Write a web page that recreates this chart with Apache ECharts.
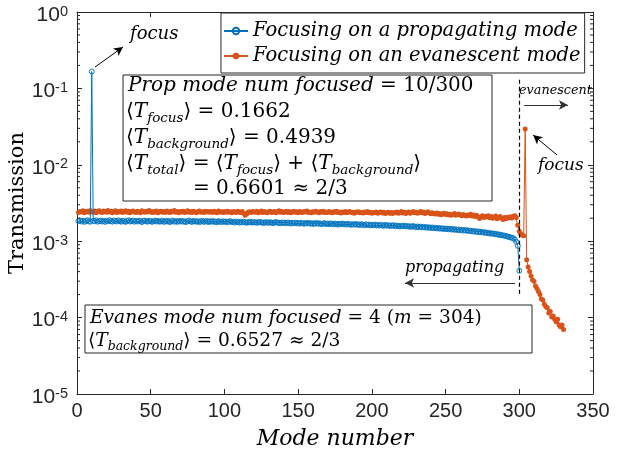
<!DOCTYPE html>
<html>
<head>
<meta charset="utf-8">
<script src="https://cdn.jsdelivr.net/npm/echarts@6/dist/echarts.min.js"></script>
<style>
  html, body { margin: 0; padding: 0; background: #fff; }
  #chart { width: 618px; height: 460px; }
</style>
</head>
<body>
<div id="chart"></div>
<script>
// Transmission into each outgoing mode when the input is shaped to focus on
// propagating mode 10 (modes 1..300 are propagating).
const propFocusTransmission = [
  1.83e-3,1.86e-3,1.81e-3,1.85e-3,1.79e-3,1.84e-3,1.88e-3,1.82e-3,1.80e-3,0.1662,
  1.85e-3,1.82e-3,1.87e-3,1.80e-3,1.83e-3,1.86e-3,1.81e-3,1.84e-3,1.79e-3,1.85e-3,
  1.82e-3,1.88e-3,1.83e-3,1.80e-3,1.86e-3,1.84e-3,1.81e-3,1.87e-3,1.83e-3,1.80e-3,
  1.85e-3,1.82e-3,1.79e-3,1.84e-3,1.87e-3,1.81e-3,1.83e-3,1.86e-3,1.80e-3,1.84e-3,
  1.81e-3,1.85e-3,1.83e-3,1.78e-3,1.84e-3,1.86e-3,1.82e-3,1.80e-3,1.85e-3,1.83e-3,
  1.79e-3,1.83e-3,1.86e-3,1.81e-3,1.84e-3,1.80e-3,1.82e-3,1.85e-3,1.79e-3,1.83e-3,
  1.81e-3,1.84e-3,1.78e-3,1.82e-3,1.86e-3,1.80e-3,1.83e-3,1.79e-3,1.84e-3,1.81e-3,
  1.85e-3,1.80e-3,1.82e-3,1.78e-3,1.83e-3,1.86e-3,1.81e-3,1.79e-3,1.84e-3,1.82e-3,
  1.80e-3,1.83e-3,1.77e-3,1.82e-3,1.85e-3,1.79e-3,1.81e-3,1.84e-3,1.78e-3,1.82e-3,
  1.80e-3,1.84e-3,1.79e-3,1.81e-3,1.77e-3,1.83e-3,1.80e-3,1.78e-3,1.82e-3,1.79e-3,
  1.81e-3,1.77e-3,1.80e-3,1.83e-3,1.78e-3,1.79e-3,1.76e-3,1.81e-3,1.78e-3,1.75e-3,
  1.79e-3,1.76e-3,1.80e-3,1.77e-3,1.74e-3,1.78e-3,1.76e-3,1.79e-3,1.75e-3,1.77e-3,
  1.78e-3,1.74e-3,1.77e-3,1.79e-3,1.75e-3,1.76e-3,1.73e-3,1.78e-3,1.76e-3,1.74e-3,
  1.77e-3,1.75e-3,1.72e-3,1.76e-3,1.78e-3,1.74e-3,1.75e-3,1.71e-3,1.76e-3,1.73e-3,
  1.75e-3,1.72e-3,1.76e-3,1.73e-3,1.70e-3,1.74e-3,1.72e-3,1.75e-3,1.71e-3,1.73e-3,
  1.70e-3,1.74e-3,1.72e-3,1.69e-3,1.73e-3,1.71e-3,1.74e-3,1.70e-3,1.72e-3,1.68e-3,
  1.72e-3,1.70e-3,1.73e-3,1.69e-3,1.71e-3,1.67e-3,1.70e-3,1.72e-3,1.68e-3,1.70e-3,
  1.67e-3,1.71e-3,1.69e-3,1.66e-3,1.70e-3,1.68e-3,1.65e-3,1.69e-3,1.67e-3,1.70e-3,
  1.66e-3,1.68e-3,1.65e-3,1.69e-3,1.66e-3,1.64e-3,1.67e-3,1.65e-3,1.68e-3,1.64e-3,
  1.66e-3,1.63e-3,1.67e-3,1.64e-3,1.62e-3,1.66e-3,1.63e-3,1.65e-3,1.61e-3,1.64e-3,
  1.62e-3,1.65e-3,1.61e-3,1.63e-3,1.60e-3,1.64e-3,1.61e-3,1.59e-3,1.63e-3,1.60e-3,
  1.62e-3,1.58e-3,1.61e-3,1.59e-3,1.62e-3,1.57e-3,1.60e-3,1.58e-3,1.56e-3,1.59e-3,
  1.57e-3,1.60e-3,1.56e-3,1.58e-3,1.55e-3,1.57e-3,1.54e-3,1.58e-3,1.55e-3,1.53e-3,
  1.56e-3,1.53e-3,1.55e-3,1.52e-3,1.54e-3,1.51e-3,1.53e-3,1.50e-3,1.52e-3,1.49e-3,
  1.51e-3,1.48e-3,1.50e-3,1.47e-3,1.49e-3,1.46e-3,1.48e-3,1.45e-3,1.47e-3,1.44e-3,
  1.46e-3,1.43e-3,1.45e-3,1.42e-3,1.44e-3,1.41e-3,1.43e-3,1.40e-3,1.42e-3,1.39e-3,
  1.41e-3,1.38e-3,1.40e-3,1.37e-3,1.39e-3,1.36e-3,1.37e-3,1.34e-3,1.36e-3,1.33e-3,
  1.35e-3,1.32e-3,1.34e-3,1.31e-3,1.32e-3,1.29e-3,1.31e-3,1.28e-3,1.29e-3,1.26e-3,
  1.27e-3,1.25e-3,1.26e-3,1.23e-3,1.24e-3,1.21e-3,1.22e-3,1.20e-3,1.19e-3,1.18e-3,
  1.17e-3,1.15e-3,1.14e-3,1.12e-3,1.11e-3,1.09e-3,1.05e-3,0.98e-3,0.87e-3,0.41e-3
];

// Transmission into each outgoing mode when focusing on evanescent mode 304
// (modes 1..300 propagating, 301..330 evanescent).
const evanFocusTransmission = [
  2.38e-3,2.45e-3,2.41e-3,2.50e-3,2.36e-3,2.44e-3,2.47e-3,2.39e-3,2.52e-3,2.43e-3,
  2.40e-3,2.48e-3,2.35e-3,2.46e-3,2.51e-3,2.42e-3,2.37e-3,2.49e-3,2.44e-3,2.39e-3,
  2.53e-3,2.41e-3,2.46e-3,2.36e-3,2.44e-3,2.50e-3,2.38e-3,2.45e-3,2.42e-3,2.48e-3,
  2.37e-3,2.43e-3,2.51e-3,2.40e-3,2.46e-3,2.35e-3,2.44e-3,2.49e-3,2.41e-3,2.38e-3,
  2.47e-3,2.42e-3,2.36e-3,2.50e-3,2.44e-3,2.39e-3,2.46e-3,2.41e-3,2.53e-3,2.43e-3,
  2.38e-3,2.45e-3,2.40e-3,2.48e-3,2.35e-3,2.43e-3,2.47e-3,2.40e-3,2.44e-3,2.37e-3,
  2.49e-3,2.42e-3,2.38e-3,2.46e-3,2.41e-3,2.52e-3,2.39e-3,2.44e-3,2.36e-3,2.45e-3,
  2.41e-3,2.47e-3,2.37e-3,2.43e-3,2.50e-3,2.40e-3,2.45e-3,2.38e-3,2.46e-3,2.42e-3,
  2.36e-3,2.44e-3,2.49e-3,2.40e-3,2.43e-3,2.37e-3,2.47e-3,2.41e-3,2.45e-3,2.39e-3,
  2.44e-3,2.38e-3,2.46e-3,2.42e-3,2.35e-3,2.48e-3,2.41e-3,2.43e-3,2.37e-3,2.45e-3,
  2.40e-3,2.47e-3,2.39e-3,2.43e-3,2.36e-3,2.45e-3,2.41e-3,2.38e-3,2.46e-3,2.42e-3,
  2.37e-3,2.44e-3,2.33e-3,2.18e-3,2.27e-3,2.40e-3,2.43e-3,2.38e-3,2.45e-3,2.41e-3,
  2.39e-3,2.46e-3,2.36e-3,2.42e-3,2.48e-3,2.37e-3,2.44e-3,2.40e-3,2.35e-3,2.43e-3,
  2.47e-3,2.38e-3,2.41e-3,2.45e-3,2.36e-3,2.43e-3,2.50e-3,2.39e-3,2.44e-3,2.37e-3,
  2.42e-3,2.46e-3,2.38e-3,2.44e-3,2.35e-3,2.41e-3,2.47e-3,2.39e-3,2.43e-3,2.36e-3,
  2.45e-3,2.40e-3,2.37e-3,2.44e-3,2.41e-3,2.48e-3,2.38e-3,2.42e-3,2.35e-3,2.43e-3,
  2.39e-3,2.46e-3,2.41e-3,2.36e-3,2.44e-3,2.40e-3,2.47e-3,2.37e-3,2.42e-3,2.38e-3,
  2.44e-3,2.39e-3,2.35e-3,2.43e-3,2.40e-3,2.46e-3,2.37e-3,2.41e-3,2.34e-3,2.42e-3,
  2.38e-3,2.44e-3,2.36e-3,2.41e-3,2.45e-3,2.37e-3,2.40e-3,2.33e-3,2.42e-3,2.39e-3,
  2.43e-3,2.36e-3,2.40e-3,2.34e-3,2.41e-3,2.37e-3,2.44e-3,2.35e-3,2.39e-3,2.32e-3,
  2.38e-3,2.35e-3,2.41e-3,2.33e-3,2.37e-3,2.42e-3,2.34e-3,2.39e-3,2.31e-3,2.36e-3,
  2.40e-3,2.33e-3,2.37e-3,2.30e-3,2.38e-3,2.35e-3,2.41e-3,2.32e-3,2.36e-3,2.44e-3,
  2.34e-3,2.39e-3,2.31e-3,2.37e-3,2.42e-3,2.33e-3,2.38e-3,2.45e-3,2.36e-3,2.40e-3,
  2.33e-3,2.38e-3,2.44e-3,2.35e-3,2.41e-3,2.30e-3,2.37e-3,2.43e-3,2.34e-3,2.29e-3,
  2.36e-3,2.31e-3,2.27e-3,2.34e-3,2.25e-3,2.30e-3,2.22e-3,2.28e-3,2.33e-3,2.24e-3,
  2.29e-3,2.21e-3,2.26e-3,2.19e-3,2.24e-3,2.30e-3,2.18e-3,2.23e-3,2.27e-3,2.20e-3,
  2.16e-3,2.24e-3,2.19e-3,2.13e-3,2.21e-3,2.17e-3,2.25e-3,2.14e-3,2.20e-3,2.11e-3,
  2.18e-3,2.09e-3,1.98e-3,2.07e-3,2.15e-3,2.04e-3,2.12e-3,2.08e-3,2.16e-3,2.03e-3,
  2.10e-3,1.99e-3,2.06e-3,2.13e-3,1.96e-3,2.05e-3,2.11e-3,2.00e-3,1.93e-3,2.04e-3,
  1.97e-3,2.06e-3,2.02e-3,2.09e-3,2.01e-3,2.12e-3,2.15e-3,2.05e-3,1.62e-3,1.35e-3,
  1.25e-3,1.20e-3,1.18e-3,0.0294,5.7e-4,4.6e-4,4.0e-4,3.5e-4,3.1e-4,3.0e-4,
  2.6e-4,2.4e-4,2.2e-4,2.0e-4,1.75e-4,1.7e-4,1.5e-4,1.4e-4,1.35e-4,1.15e-4,
  1.2e-4,1.02e-4,1.05e-4,9.5e-5,8.8e-5,9.5e-5,8.0e-5,7.6e-5,8.0e-5,7.0e-5
];

const xTickValues = [0, 50, 100, 150, 200, 250, 300, 350];
const yDecadeExponents = [-5, -4, -3, -2, -1, 0];
const seriesNames = ['Focusing on a propagating mode', 'Focusing on an evanescent mode'];
const lastPropagatingMode = 300;

const AX = '#262626';
const BLUE = '#0072BD';
const ORANGE = '#D95319';
const SERIF = "'DejaVu Serif', serif";
const SANS = "'Liberation Sans', Arial, sans-serif";

const xMin = xTickValues[0];
const xMax = xTickValues[xTickValues.length - 1];
const yMin = Math.pow(10, yDecadeExponents[0]);
const yMax = Math.pow(10, yDecadeExponents[yDecadeExponents.length - 1]);

// minor ticks of the log axis at 2..9 x 10^k
const minorTickValues = [];
for (let k = yDecadeExponents[0]; k < yDecadeExponents[yDecadeExponents.length - 1]; k++) {
  for (let m = 2; m <= 9; m++) minorTickValues.push(m * Math.pow(10, k));
}

const chart = echarts.init(document.getElementById('chart'), null, { renderer: 'canvas' });

const mathRich = (size, subSize) => ({
  i: { fontFamily: SERIF, fontStyle: 'italic', fontSize: size, lineHeight: 24, fill: '#000' },
  r: { fontFamily: SERIF, fontSize: size, lineHeight: 24, fill: '#000' },
  sub: { fontFamily: SERIF, fontStyle: 'italic', fontSize: subSize, lineHeight: 12, padding: [12, 0, 0, 0], fill: '#000' }
});

function mathText(x, y, text, size, subSize) {
  size = size || 20;
  return {
    type: 'text', x: x, y: y, z: 101, silent: true,
    style: {
      text: text, rich: mathRich(size, subSize || 13.5),
      fontFamily: SERIF, fontSize: size, fill: '#000',
      align: 'left', verticalAlign: 'middle'
    }
  };
}

function note(x, y, text, size) {
  return {
    type: 'text', x: x, y: y, z: 101, silent: true,
    style: {
      text: text, fontFamily: SERIF, fontStyle: 'italic', fontSize: size,
      fill: '#000', align: 'left', verticalAlign: 'middle'
    }
  };
}

function box(x, y, w, h) {
  return {
    type: 'rect', z: 100, silent: true,
    shape: { x: x, y: y, width: w, height: h },
    style: { fill: '#fff', stroke: AX, lineWidth: 1 }
  };
}

const axisCommon = {
  axisLine: { show: true, onZero: false, lineStyle: { color: AX, width: 1 } },
  axisTick: { show: true, inside: true, length: 5, lineStyle: { color: AX, width: 1 } },
  splitLine: { show: false },
  minorTick: { show: false }
};

const arrow = (from, to, color) => [
  { coord: from, lineStyle: { color: color || '#000', width: 1, type: 'solid' } },
  { coord: to }
];

const option = {
  animation: false,
  backgroundColor: '#fff',
  grid: { left: 77, right: 25, top: 12, bottom: 66, containLabel: false, outerBoundsMode: 'none' },
  xAxis: [
    Object.assign({
      type: 'value', position: 'bottom', min: xMin, max: xMax, interval: 50,
      axisLabel: { show: true, margin: 7, color: AX, fontFamily: SANS, fontSize: 20 },
      name: 'Mode number', nameLocation: 'middle', nameGap: 34,
      nameTextStyle: { fontFamily: SERIF, fontStyle: 'italic', fontSize: 22, color: '#000' }
    }, axisCommon),
    Object.assign({
      type: 'value', position: 'top', min: xMin, max: xMax, interval: 50,
      axisLabel: { show: false }
    }, axisCommon)
  ],
  yAxis: [
    Object.assign({
      type: 'log', logBase: 10, position: 'left', min: yMin, max: yMax,
      axisLabel: {
        show: true, margin: 9, color: AX,
        formatter: (v) => '{b|10}{s|' + Math.round(Math.log10(v)) + '}',
        rich: {
          b: { fontFamily: SANS, fontSize: 21, color: AX, lineHeight: 20, padding: [6, 0, 0, 0] },
          s: { fontFamily: SANS, fontSize: 14.5, color: AX, lineHeight: 14, verticalAlign: 'top', padding: [2, 0, 0, 0] }
        }
      }
    }, axisCommon),
    Object.assign({
      type: 'log', logBase: 10, position: 'right', min: yMin, max: yMax,
      axisLabel: { show: false }
    }, axisCommon)
  ],
  legend: {
    data: seriesNames,
    orient: 'vertical',
    left: 221, top: 13,
    padding: [6, 4, 5, 2],
    itemGap: 1, itemWidth: 24, itemHeight: 8,
    backgroundColor: '#fff', borderColor: AX, borderWidth: 1,
    textStyle: { fontFamily: SERIF, fontStyle: 'italic', fontSize: 19.5, color: '#000', lineHeight: 24 },
    selectedMode: false, z: 50
  },
  series: [
    {
      name: seriesNames[0], type: 'line',
      data: propFocusTransmission.map((v, i) => [i + 1, v]),
      symbol: 'circle', symbolSize: 5, showSymbol: true, showAllSymbol: true,
      lineStyle: { color: BLUE, width: 1 },
      itemStyle: { color: 'rgba(255,255,255,0)', borderColor: BLUE, borderWidth: 0.9 },
      emphasis: { disabled: true }, z: 3
    },
    {
      name: seriesNames[1], type: 'line',
      data: evanFocusTransmission.map((v, i) => [i + 1, v]),
      symbol: 'circle', symbolSize: 5, showSymbol: true, showAllSymbol: true,
      lineStyle: { color: ORANGE, width: 1 },
      itemStyle: { color: ORANGE },
      emphasis: { disabled: true }, z: 2,
      markLine: {
        silent: true, animation: false,
        label: { show: false },
        emphasis: { disabled: true },
        symbol: ['none', 'arrow'], symbolSize: [7, 9],
        data: [
          // propagating / evanescent boundary
          [
            { coord: [lastPropagatingMode, 0.13], symbol: 'none', lineStyle: { color: '#000', width: 1.2, type: [4, 3] } },
            { coord: [lastPropagatingMode, 1.9e-4], symbol: 'none' }
          ],
          arrow([12.2, 0.19], [31.2, 0.348]),
          arrow([303.3, 0.0607], [333, 0.0607], '#333'),
          arrow([325.6, 0.01343], [309.4, 0.0245]),
          arrow([297.2, 2.84e-4], [222.5, 2.84e-4], '#333')
        ]
      }
    },
    {
      // minor ticks of the log axes, drawn on both the left and the right edge
      type: 'custom', silent: true, clip: false, z: 4,
      data: minorTickValues.map((v) => [xMin, v]),
      renderItem: (params, api) => {
        const v = api.value(1);
        const l = api.coord([xMin, v]);
        const r = api.coord([xMax, v]);
        const st = { stroke: AX, lineWidth: 1 };
        return {
          type: 'group',
          children: [
            { type: 'line', shape: { x1: l[0], y1: l[1], x2: l[0] + 3, y2: l[1] }, style: st },
            { type: 'line', shape: { x1: r[0] - 3, y1: r[1], x2: r[0], y2: r[1] }, style: st }
          ]
        };
      }
    }
  ],
  graphic: [
    // y-axis title
    {
      type: 'text', x: 18, y: 203, rotation: Math.PI / 2, silent: true, z: 101,
      style: {
        text: 'Transmission', fontFamily: SERIF, fontSize: 21, fill: '#000',
        align: 'center', verticalAlign: 'middle'
      }
    },

    box(123, 75, 369, 126),
    mathText(128, 86, '{i|Prop mode num focused} {r|= 10/300}'),
    mathText(126, 112, '{r|⟨}{i|T}{sub|focus}{r|⟩ = 0.1662}'),
    mathText(126, 138, '{r|⟨}{i|T}{sub|background}{r|⟩ = 0.4939}'),
    mathText(126, 164, '{r|⟨}{i|T}{sub|total}{r|⟩ = ⟨}{i|T}{sub|focus}{r|⟩ + ⟨}{i|T}{sub|background}{r|⟩}'),
    mathText(193, 189, '{r|= 0.6601 ≈ 2/3}'),

    box(85, 305, 447, 48),
    mathText(90, 318, '{i|Evanes mode num focused} {r|= 4 (}{i|m}{r| = 304)}', 18.6, 12.5),
    mathText(88, 341, '{r|⟨}{i|T}{sub|background}{r|⟩ = 0.6527 ≈ 2/3}', 18.6, 12.5),

    note(130, 34, 'focus', 18),
    note(519, 91, 'evanescent', 12.8),
    note(538, 166, 'focus', 17),
    note(405, 268, 'propagating', 16)
  ]
};

chart.setOption(option);
</script>
</body>
</html>
